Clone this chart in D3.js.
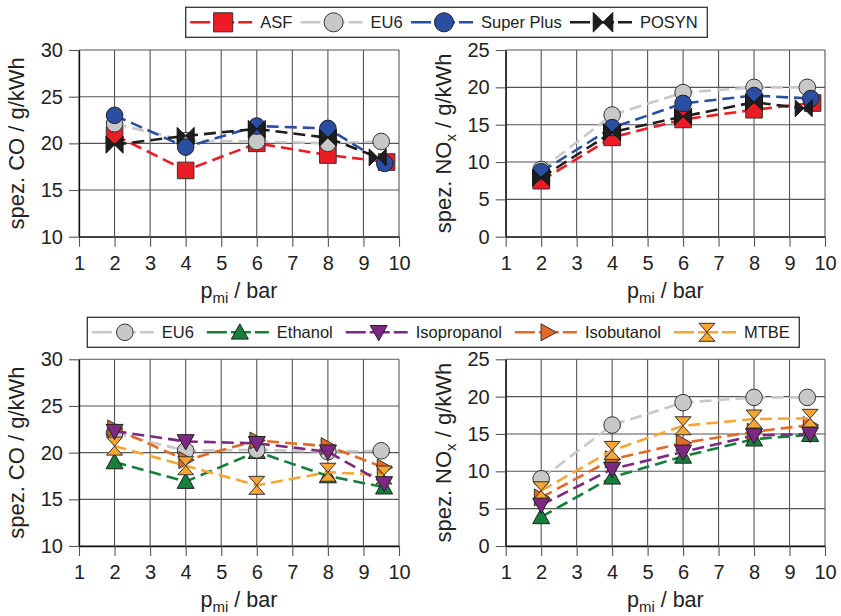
<!DOCTYPE html>
<html><head><meta charset="utf-8">
<script src="https://cdn.jsdelivr.net/npm/d3@7"></script>
<style>
body{margin:0;background:#fff;}
svg{display:block;font-family:"Liberation Sans",Arial,Helvetica,sans-serif;}
</style></head><body>
<svg id="chart" width="841" height="616"></svg>
<script>
// ---------- data ----------
const xTicks   = [1,2,3,4,5,6,7,8,9,10];
const coTicks  = [10,15,20,25,30];
const noxTicks = [0,5,10,15,20,25];

// x positions (p_mi / bar) per series
const pmiASF   = [2,4,6,8,9.65];
const pmiEU6   = [2,4,6,8,9.5];
const pmiSuper = [2,4,6,8,9.6];
const pmiPOSYN = [2,4,6,8,9.4];
const pmiAlc   = [2,4,6,8,9.58];

// top row
const coASF     = [20.9, 17.1, 20.0, 18.75, 18.0];
const coEU6     = [22.1, 20.3, 20.2, 20.0, 20.2];
const coSuper   = [23.0, 19.6, 21.85, 21.6, 17.85];
const coPOSYN   = [19.85, 20.8, 21.55, 20.6, 18.5];
const noxASF    = [7.5, 13.3, 15.7, 17.0, 17.9];
const noxEU6    = [9.0, 16.3, 19.3, 20.0, 20.0];
const noxSuper  = [8.7, 14.6, 17.85, 18.9, 18.5];
const noxPOSYN  = [7.9, 14.0, 16.1, 18.0, 17.2];

// bottom row
const coEU6b        = [22.1, 20.2, 20.3, 20.1, 20.2];
const coEthanol     = [19.0, 16.9, 20.1, 17.5, 16.3];
const coIsopropanol = [22.3, 21.2, 21.0, 20.1, 16.7];
const coIsobutanol  = [22.6, 19.2, 21.3, 20.7, 18.4];
const coMTBE        = [20.7, 18.6, 16.5, 17.9, 17.6];
const noxEU6b        = [9.0, 16.2, 19.2, 19.9, 19.9];
const noxEthanol     = [3.9, 9.2, 12.0, 14.3, 14.9];
const noxIsopropanol = [5.5, 10.3, 12.6, 14.8, 15.0];
const noxIsobutanol  = [6.5, 11.6, 13.8, 15.3, 16.2];
const noxMTBE        = [7.4, 12.8, 16.1, 17.0, 17.1];

const topNames    = ["ASF","EU6","Super Plus","POSYN"];
const bottomNames = ["EU6","Ethanol","Isopropanol","Isobutanol","MTBE"];

// ---------- styles ----------
const sty = {
  "ASF":        {line:"#ec1c24", fill:"#ec1c24", stroke:"#333", m:"square"},
  "EU6":        {line:"#c8c8c8", fill:"#c8c8c8", stroke:"#333", m:"circle"},
  "Super Plus": {line:"#2a4fa2", fill:"#2a4fa2", stroke:"#222", m:"circle"},
  "POSYN":      {line:"#1e1e1e", fill:"#1e1e1e", stroke:"#111", m:"bowtie"},
  "Ethanol":    {line:"#15803c", fill:"#15803c", stroke:"#222", m:"up"},
  "Isopropanol":{line:"#7d2882", fill:"#7d2882", stroke:"#222", m:"down"},
  "Isobutanol": {line:"#e36a24", fill:"#e36a24", stroke:"#333", m:"right"},
  "MTBE":       {line:"#f7a533", fill:"#f7a533", stroke:"#333", m:"hourglass"}
};

function sym(t, k){
  k = k || 1;
  const s = 8.3*k;
  switch(t){
    case "circle": return `M${s},0A${s},${s} 0 1,1 ${-s},0A${s},${s} 0 1,1 ${s},0Z`;
    case "square": return `M${-s},${-s}H${s}V${s}H${-s}Z`;
    case "up":   { const a=8.5*k; return `M0,${-a}L${a},${a*0.8}L${-a},${a*0.8}Z`; }
    case "down": { const a=8.5*k; return `M0,${a}L${a},${-a*0.8}L${-a},${-a*0.8}Z`; }
    case "right":{ const a=8.5*k; return `M${a},0L${-a*0.8},${a}L${-a*0.8},${-a}Z`; }
    case "hourglass": { const w=8*k,h=9*k; return `M${-w},${-h}H${w}L0,0Z M0,0L${w},${h}H${-w}Z`; }
    case "bowtie": { const w=8.5*k,h=8.5*k; return `M${-w},${-h}L0,0L${-w},${h}Z M${w},${-h}L0,0L${w},${h}Z`; }
  }
}

const svg = d3.select("#chart");
const FONT_TICK = 20, FONT_YT = 22, FONT_XT = 21.5;

function panel(p){
  const x = d3.scaleLinear().domain([1,10]).range([p.left,p.right]);
  const y = d3.scaleLinear().domain(p.yDomain).range([p.bottom,p.top]);
  const g = svg.append("g");
  // grid
  g.append("g").selectAll("line").data(xTicks).join("line")
    .attr("x1",d=>x(d)).attr("x2",d=>x(d)).attr("y1",p.top).attr("y2",p.bottom)
    .attr("stroke","#555").attr("stroke-width",1.1);
  g.append("g").selectAll("line").data(p.yTicks).join("line")
    .attr("y1",d=>y(d)).attr("y2",d=>y(d)).attr("x1",p.left).attr("x2",p.right)
    .attr("stroke","#555").attr("stroke-width",1.1);
  // axes
  const ax = g.append("g").attr("transform",`translate(0,${p.bottom})`)
    .call(d3.axisBottom(x).tickValues(xTicks).tickSize(10).tickSizeOuter(0).tickPadding(9));
  const ay = g.append("g").attr("transform",`translate(${p.left},0)`)
    .call(d3.axisLeft(y).tickValues(p.yTicks).tickSize(10).tickSizeOuter(0).tickPadding(6));
  [ax,ay].forEach(a=>{
    a.select(".domain").attr("stroke","#111").attr("stroke-width",1.3);
    a.selectAll(".tick line").attr("stroke","#555").attr("stroke-width",1.1);
    a.selectAll("text").attr("font-size",FONT_TICK).attr("fill","#222")
      .attr("font-family","'Liberation Sans',Arial,sans-serif");
  });
  // y title
  const yt = g.append("text").attr("transform","rotate(-90)")
    .attr("x",-(p.top+p.bottom)/2).attr("y",p.left-55)
    .attr("text-anchor","middle").attr("font-size",FONT_YT).attr("fill","#222");
  yt.append("tspan").text(p.yTitle[0]);
  if(p.yTitle.length>1){
    yt.append("tspan").text(p.yTitle[1]).attr("font-size",15).attr("dy",5);
    yt.append("tspan").text(p.yTitle[2]).attr("dy",-5);
  }
  // x title
  const xt = g.append("text").attr("x",(p.left+p.right)/2).attr("y",p.bottom+61)
    .attr("text-anchor","middle").attr("font-size",FONT_XT).attr("fill","#222");
  xt.append("tspan").text("p");
  xt.append("tspan").text("mi").attr("font-size",15).attr("dy",5);
  xt.append("tspan").text(" / bar").attr("dy",-5);
  // series
  const line = d3.line().x(d=>x(d[0])).y(d=>y(d[1]));
  p.series.forEach(s=>{
    const st = sty[s.name];
    const pts = s.x.map((v,i)=>[v,s.y[i]]);
    g.append("path").datum(pts).attr("d",line).attr("fill","none")
      .attr("stroke",st.line).attr("stroke-width",2.6).attr("stroke-dasharray","12,6");
    g.append("g").selectAll("path").data(pts).join("path")
      .attr("transform",d=>`translate(${x(d[0])},${y(d[1])})`)
      .attr("d",sym(st.m)).attr("fill",st.fill).attr("stroke",st.stroke).attr("stroke-width",1);
  });
}

function legend(names, left, right, top, mk){
  const g = svg.append("g");
  const box = g.append("rect").attr("x",left).attr("y",top).attr("width",right-left).attr("height",30)
    .attr("fill","#fff").attr("stroke","#333").attr("stroke-width",1.3);
  const cy = top+15;
  const tmp = names.map(n=>{
    const t = g.append("text").text(n).attr("font-size",16.5).attr("fill","#222").attr("y",cy+6);
    return {n, t, w: t.node().getComputedTextLength()};
  });
  const sum = d3.sum(tmp, d=>70+d.w);
  const gap = (right-left-14-sum)/(names.length-1);
  let cx = left+4.5;
  tmp.forEach(d=>{
    const st = sty[d.n];
    g.append("line").attr("x1",cx).attr("x2",cx+62).attr("y1",cy).attr("y2",cy)
      .attr("stroke",st.line).attr("stroke-width",2.6).attr("stroke-dasharray","20,4");
    g.append("path").attr("transform",`translate(${cx+33},${cy})`).attr("d",sym(st.m,mk))
      .attr("fill",st.fill).attr("stroke",st.stroke).attr("stroke-width",1);
    d.t.attr("x",cx+70).raise();
    cx += 70 + d.w + gap;
  });
}

panel({left:79,right:399,top:50,bottom:236.7,yDomain:[10,30],yTicks:coTicks,
  yTitle:["spez. CO / g/kWh"],
  series:[{name:"ASF",x:pmiASF,y:coASF},{name:"EU6",x:pmiEU6,y:coEU6},
          {name:"Super Plus",x:pmiSuper,y:coSuper},{name:"POSYN",x:pmiPOSYN,y:coPOSYN}]});
panel({left:505.7,right:825,top:50,bottom:236.7,yDomain:[0,25],yTicks:noxTicks,
  yTitle:["spez. NO","x"," / g/kWh"],
  series:[{name:"ASF",x:pmiASF,y:noxASF},{name:"EU6",x:pmiEU6,y:noxEU6},
          {name:"Super Plus",x:pmiSuper,y:noxSuper},{name:"POSYN",x:pmiPOSYN,y:noxPOSYN}]});
panel({left:79,right:399,top:359.3,bottom:546,yDomain:[10,30],yTicks:coTicks,
  yTitle:["spez. CO / g/kWh"],
  series:[{name:"Ethanol",x:pmiAlc,y:coEthanol},{name:"EU6",x:pmiEU6,y:coEU6b},
          {name:"Isobutanol",x:pmiAlc,y:coIsobutanol},{name:"MTBE",x:pmiAlc,y:coMTBE},
          {name:"Isopropanol",x:pmiAlc,y:coIsopropanol}]});
panel({left:505.7,right:825,top:359.3,bottom:546,yDomain:[0,25],yTicks:noxTicks,
  yTitle:["spez. NO","x"," / g/kWh"],
  series:[{name:"Ethanol",x:pmiAlc,y:noxEthanol},{name:"EU6",x:pmiEU6,y:noxEU6b},
          {name:"Isobutanol",x:pmiAlc,y:noxIsobutanol},{name:"MTBE",x:pmiAlc,y:noxMTBE},
          {name:"Isopropanol",x:pmiAlc,y:noxIsopropanol}]});

legend(topNames, 185.7, 707.3, 7.3, 1.15);
legend(bottomNames, 87.3, 799.3, 317.3, 1.0);
</script>
</body></html>
